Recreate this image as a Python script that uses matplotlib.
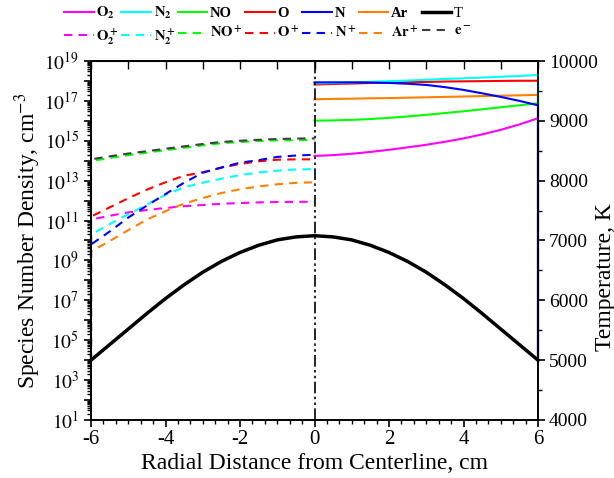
import numpy as np
import matplotlib
matplotlib.use("Agg")
import matplotlib.pyplot as plt
from matplotlib.ticker import FixedLocator, FuncFormatter, MultipleLocator, NullFormatter
from matplotlib.lines import Line2D

plt.rcParams["font.family"] = ["Liberation Serif", "DejaVu Serif"]
plt.rcParams["mathtext.fontset"] = "stix"
plt.rcParams["axes.unicode_minus"] = False

# radial positions (cm)
x_left = [-6, -5.5, -5, -4.5, -4, -3.5, -3, -2.5, -2, -1.5, -1, -0.5, 0]
x_right = [0, 0.5, 1, 1.5, 2, 2.5, 3, 3.5, 4, 4.5, 5, 5.5, 6]
x_full = x_left + x_right[1:]

# log10 of number densities, ions (left half)
o2p = [11.05, 11.24, 11.41, 11.53, 11.63, 11.72, 11.78, 11.84, 11.88, 11.91, 11.93, 11.94, 11.94]
n2p = [10.30, 10.82, 11.32, 11.80, 12.29, 12.67, 12.90, 13.10, 13.28, 13.41, 13.50, 13.56, 13.58]
nop = [13.98, 14.14, 14.28, 14.41, 14.53, 14.65, 14.77, 14.88, 14.94, 14.99, 15.02, 15.03, 15.04]
op = [11.20, 11.66, 12.12, 12.55, 12.92, 13.25, 13.42, 13.65, 13.84, 13.97, 14.05, 14.07, 14.07]
np_ = [9.80, 10.45, 11.15, 11.75, 12.33, 12.90, 13.40, 13.66, 13.90, 14.03, 14.19, 14.26, 14.30]
arp = [9.45, 9.97, 10.52, 11.05, 11.47, 11.85, 12.13, 12.38, 12.57, 12.71, 12.82, 12.89, 12.92]
elec = [14.07, 14.22, 14.36, 14.48, 14.60, 14.72, 14.84, 14.94, 15.00, 15.05, 15.09, 15.11, 15.12]

# log10 of number densities, neutrals (right half)
o2 = [14.24, 14.28, 14.35, 14.44, 14.55, 14.67, 14.80, 14.95, 15.12, 15.32, 15.55, 15.82, 16.13]
n2 = [17.88, 17.90, 17.93, 17.96, 17.99, 18.02, 18.06, 18.10, 18.13, 18.17, 18.21, 18.25, 18.30]
no = [16.01, 16.02, 16.05, 16.09, 16.15, 16.22, 16.30, 16.39, 16.48, 16.58, 16.68, 16.78, 16.88]
o = [17.82, 17.85, 17.87, 17.90, 17.92, 17.94, 17.95, 17.97, 17.98, 17.99, 18.00, 18.01, 18.01]
n = [17.93, 17.93, 17.93, 17.92, 17.90, 17.86, 17.80, 17.69, 17.55, 17.38, 17.20, 17.00, 16.78]
ar = [17.08, 17.10, 17.11, 17.13, 17.14, 17.16, 17.18, 17.20, 17.22, 17.24, 17.26, 17.28, 17.30]

# wall value where every curve drops along the axis
wall = 4.0

temp = [5000, 5260, 5520, 5780, 6030, 6260, 6470, 6650, 6800, 6920, 7010, 7060, 7080,
        7060, 7010, 6920, 6800, 6650, 6470, 6260, 6030, 5780, 5520, 5260, 5000]

colors = {"O2": "#ff00ff", "N2": "#00ffff", "NO": "#00ff00", "O": "#ff0000",
          "N": "#0000ff", "Ar": "#ff8000", "e": "#404040"}
dash = (4, 3)

fig = plt.figure(figsize=(6.14, 4.78), dpi=100)
ax = fig.add_axes([91 / 614, 1 - 420 / 478, 447 / 614, 359 / 478])

ions = [(o2p, "O2"), (n2p, "N2"), (nop, "NO"), (op, "O"), (np_, "N"), (arp, "Ar"), (elec, "e")]
for vals, key in ions:
    xs = [-6] + x_left
    ys = [10 ** wall] + [10 ** v for v in vals]
    ax.plot(xs, ys, color=colors[key], lw=1.5, dashes=dash, clip_on=False)

neutrals = [(o2, "O2", 3), (n2, "N2", 6), (no, "NO", 3), (o, "O", 3), (n, "N", 7), (ar, "Ar", 3)]
for vals, key, z in neutrals:
    xs = x_right + [6]
    ys = [10 ** v for v in vals] + [10 ** wall]
    ax.plot(xs, ys, color=colors[key], lw=1.5, zorder=z, clip_on=False)

ax.axvline(0, color="black", lw=1.2, dashes=(7, 2, 1.5, 2, 1.5, 2), zorder=8)

ax.set_yscale("log")
ax.set_ylim(1e1, 1e19)
ax.set_xlim(-6, 6)
ax.yaxis.set_major_locator(FixedLocator([10.0 ** k for k in range(1, 20)]))
ax.yaxis.set_major_formatter(FuncFormatter(
    lambda v, p: r"$10^{%d}$" % round(np.log10(v)) if round(np.log10(v)) % 2 == 1 else ""))
ax.yaxis.set_minor_locator(FixedLocator([m * 10.0 ** k for k in range(1, 19) for m in range(2, 10)]))
ax.yaxis.set_minor_formatter(NullFormatter())
ax.xaxis.set_major_locator(MultipleLocator(2))
ax.xaxis.set_minor_locator(MultipleLocator(1 / 3))
ax.tick_params(axis="both", which="major", direction="out", length=5, width=1.2, labelsize=14)
ax.tick_params(axis="both", which="minor", direction="out", length=3, width=1)
ax.tick_params(axis="x", labelsize=15, pad=2)
ax.set_xlabel("Radial Distance from Centerline, cm", fontsize=17, labelpad=3)
ax.set_ylabel(r"Species Number Density, cm$^{-3}$", fontsize=17, labelpad=1)

top = ax.secondary_xaxis("top")
top.xaxis.set_major_locator(MultipleLocator(1))
top.tick_params(direction="in", length=6, width=1, labeltop=False)

ax2 = ax.twinx()
ax2.plot(x_full, temp, color="black", lw=2.5, zorder=5, clip_on=False)
ax2.set_ylim(4000, 10000)
ax2.yaxis.set_major_locator(MultipleLocator(1000))
ax2.yaxis.set_minor_locator(MultipleLocator(500))
ax2.tick_params(axis="y", which="major", direction="out", length=5, width=1.2, labelsize=14, pad=3)
ax2.tick_params(axis="y", which="minor", direction="out", length=3, width=1)
fig.text(605 / 614, 1 - 277 / 478, "Temperature, K", fontsize=17, rotation=90,
         ha="center", va="center")

for a in (ax, ax2):
    for s in a.spines.values():
        s.set_linewidth(1.2)

names = [("O2", r"$\mathbf{O_2}$", r"$\mathbf{O_2^+}$"),
         ("N2", r"$\mathbf{N_2}$", r"$\mathbf{N_2^+}$"),
         ("NO", "NO", r"$\mathbf{NO^+}$"),
         ("O", "O", r"$\mathbf{O^+}$"),
         ("N", "N", r"$\mathbf{N^+}$"),
         ("Ar", "Ar", r"$\mathbf{Ar^+}$")]
handles, labels = [], []
for key, lab_n, lab_i in names:
    handles.append(Line2D([], [], color=colors[key], lw=1.5))
    labels.append(lab_n)
    handles.append(Line2D([], [], color=colors[key], lw=1.5, dashes=dash))
    labels.append(lab_i)
handles.append(Line2D([], [], color="black", lw=2.5))
labels.append("T")
handles.append(Line2D([], [], color=colors["e"], lw=1.5, dashes=dash))
labels.append(r"$\mathbf{e^-}$")

leg = fig.legend(handles, labels, ncol=7, loc="upper left", bbox_to_anchor=(0.093, 1.005),
                 frameon=False, prop={"weight": "bold", "size": 10.5}, handlelength=2.0,
                 handletextpad=0.2, columnspacing=0.2, labelspacing=0.35, borderpad=0)
for t in leg.get_texts():
    if t.get_text() == "T":
        t.set_fontweight("normal")

fig.savefig("out.png", dpi=100)
